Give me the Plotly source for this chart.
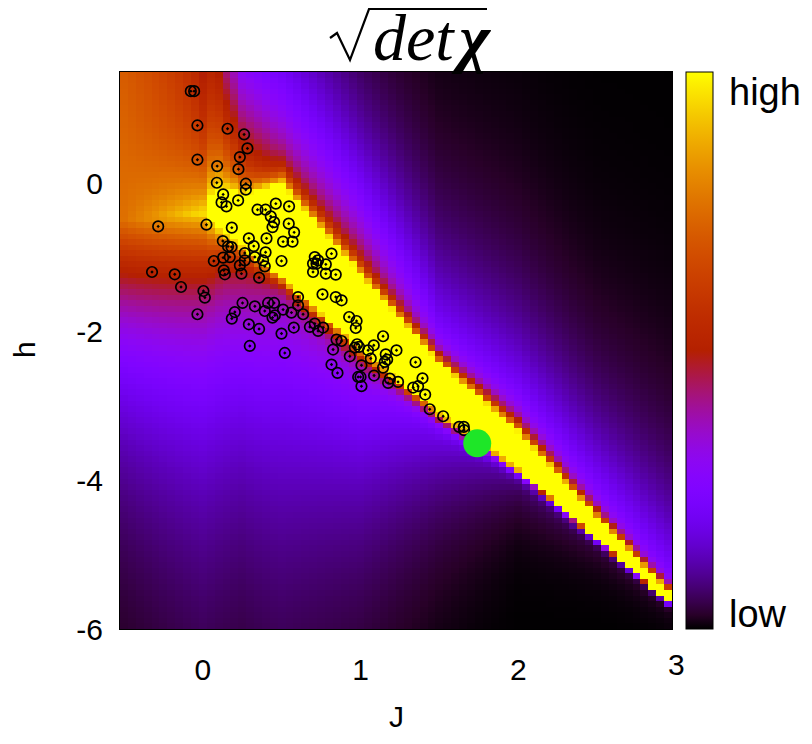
import numpy as np
import plotly.graph_objects as go

# ---------------- data ----------------
# inferred models (J, h)
J_pts = [-0.076, -0.055, -0.034, 0.157, 0.262, 0.283, 0.235, -0.034, 0.091, 0.226,
         0.089, 0.273, 0.273, 0.129, 0.224, 0.119, 0.150, 0.347, 0.398, 0.463,
         0.547, 0.431, 0.452, 0.442, 0.545, 0.579, -0.283, 0.023, 0.184, 0.292,
         0.404, 0.509, 0.569, 0.127, 0.160, 0.182, 0.323, 0.266, 0.398,
         0.129, 0.171, 0.070, 0.330, 0.382, 0.393, 0.499, 0.133, 0.140, 0.235,
         0.245, 0.357, -0.322, -0.178, -0.138, 0.004, 0.013, -0.034, 0.203, 0.184,
         0.252, 0.330, 0.393, 0.414, 0.452, 0.442, 0.457, 0.509, 0.562, 0.292,
         0.357, 0.499, 0.577, 0.298, 0.520, 0.604, 0.604, 0.636, 0.266,
         0.710, 0.731, 0.699, 0.721, 0.816, 0.780, 0.699, 0.780, 0.843, 0.759,
         0.843, 0.880, 0.679, 0.710, 0.731, 0.763, 0.928, 0.975, 0.970, 0.848,
         0.880, 0.826, 0.978, 0.964, 0.991, 1.143, 1.084, 1.048, 0.932, 1.065,
         1.160, 1.169, 1.154, 1.143, 1.228, 0.816, 0.854, 1.006, 1.000, 0.985,
         1.086, 1.006, 1.186, 1.175, 1.238, 1.349, 1.393, 1.334, 1.365, 1.410,
         1.439, 1.524, 1.625, 1.655, 1.657]
h_pts = [1.242, 1.242, 0.780, 0.736, 0.659, 0.471, 0.354, 0.319, 0.233, 0.192,
         0.009, -0.004, -0.085, -0.148, -0.229, -0.256, -0.309, -0.354, -0.354, -0.273,
         -0.309, -0.444, -0.521, -0.588, -0.542, -0.659, -0.579, -0.556, -0.596, -0.740,
         -0.740, -0.784, -0.784, -0.776, -0.848, -0.857, -0.844, -0.938, -0.928,
         -1.000, -0.992, -1.045, -0.992, -1.036, -1.117, -1.045, -1.170, -1.224, -1.103,
         -1.215, -1.269, -1.193, -1.224, -1.395, -1.449, -1.538, -1.762, -1.732, -1.820,
         -1.610, -1.655, -1.718, -1.610, -1.610, -1.807, -1.776, -1.699, -1.740, -1.897,
         -1.960, -2.022, -1.941, -2.189, -2.283, -1.530, -1.641, -1.762, -1.036,
         -0.992, -1.036, -1.080, -1.080, -0.946, -1.090, -1.193, -1.215, -1.228, -1.493,
         -1.530, -1.574, -1.933, -1.888, -1.987, -1.941, -1.799, -1.853, -1.947, -2.103,
         -2.122, -2.237, -2.166, -2.210, -2.202, -2.058, -2.180, -2.247, -2.328, -2.358,
         -2.301, -2.372, -2.404, -2.480, -2.247, -2.439, -2.552, -2.449, -2.606, -2.606,
         -2.587, -2.731, -2.628, -2.687, -2.673, -2.408, -2.624, -2.749, -2.731, -2.843,
         -3.041, -3.135, -3.279, -3.279, -3.323]
J_special = [1.74]
h_special = [-3.50]

# surface sqrt(det chi): grid and column-profile parameters
J_cells = np.round(np.arange(-0.5, 2.951, 0.05), 4)
h_cells = np.round(-6 + 0.075 * (np.arange(100) + 0.5), 4)
J_anchor    = [-0.5, 0.0, 0.125, 0.25, 0.5, 1.0, 1.5, 2.0, 2.5, 3.0]
edge_h      = [-0.5, -0.4, -0.6, -0.8, -1.22, -2.18, -3.08, -3.85, -4.78, -5.72]
core_amp    = [0.0, 0.3, 0.5, 0.65, 1.05, 1.05, 1.05, 1.05, 1.05, 1.05]
yellow_w    = [0.0, 0.0, 0.3, 0.55, 1.1, 0.88, 0.62, 0.45, 0.25, 0.1]
core_up_len = [0.6, 0.6, 0.2, 0.1, 0.15, 0.1, 0.1, 0.12, 0.08, 0.06]
core_dn_len = [0.5, 0.5, 0.2, 0.12, 0.08, 0.1, 0.07, 0.04, 0.03, 0.02]
tail_up_amp = [0.76, 0.66, 1.0, 1.14, 1.11, 1.21, 0.59, 0.55, 0.45, 0.33]
tail_up_len = [30.0, 6.0, 2.58, 1.69, 1.65, 1.26, 1.21, 1.2, 1.1, 1.2]
tail_dn_amp = [0.76, 0.66, 0.6, 0.56, 0.44, 0.4, 0.25, 0.12, 0.06, 0.03]
tail_dn_len = [1.7, 2.3, 2.2, 2.1, 2.35, 1.71, 1.0, 0.44, 0.3, 0.2]

x_ticks = [0, 1, 2]
y_ticks = [-6, -4, -2, 0]
cb_lines = [0.2, 0.4, 0.6, 0.8]

# ---------------- surface ----------------
JJ, HH = np.meshgrid(J_cells, h_cells)
p = lambda arr: np.interp(JJ, J_anchor, arr)
d = HH - p(edge_h)
up = p(core_amp) * np.exp(-np.maximum(0, d - p(yellow_w)) / p(core_up_len)) \
     + p(tail_up_amp) * np.exp(-d / p(tail_up_len))
dn = p(core_amp) * np.exp(d / p(core_dn_len)) + p(tail_dn_amp) * np.exp(d / p(tail_dn_len))
Z = np.clip(np.where(d >= 0, up, dn), 0, 1)

# gnuplot default palette (rgbformulae 7,5,15)
cs = []
for i in range(41):
    t = i / 40
    r = np.sqrt(t); g = t ** 3; b = max(0.0, np.sin(2 * np.pi * t))
    cs.append([t, f"rgb({int(round(r*255))},{int(round(g*255))},{int(round(b*255))})"])

# ---------------- figure ----------------
L, R, T, B = 120, 140, 72, 115
W, H = 812, 744
pw, ph = W - L - R, H - T - B
px = lambda x: (x - L) / pw
py = lambda y: (H - B - y) / ph

fig = go.Figure()
fig.add_trace(go.Heatmap(
    x=J_cells, y=h_cells, z=Z, zmin=0, zmax=1, colorscale=cs,
    colorbar=dict(thickness=27, len=1, lenmode="fraction", x=px(686), xanchor="left",
                  y=0.5, yanchor="middle", xpad=0, ypad=0, outlinewidth=1,
                  outlinecolor="black", showticklabels=False, ticks=""),
    hoverinfo="skip"))
fig.add_trace(go.Scatter(x=J_pts, y=h_pts, mode="markers",
                         marker=dict(symbol="circle-open-dot", size=10.5, color="black",
                                     line=dict(width=1.7)),
                         showlegend=False, hoverinfo="skip"))
fig.add_trace(go.Scatter(x=J_special, y=h_special, mode="markers",
                         marker=dict(symbol="circle", size=28, color="#1ee628"),
                         showlegend=False, hoverinfo="skip"))

font = "Liberation Sans, Arial, sans-serif"
fig.update_layout(
    width=W, height=H, margin=dict(l=L, r=R, t=T, b=B),
    paper_bgcolor="white", plot_bgcolor="white", showlegend=False,
    font=dict(family=font, size=30, color="black"),
    xaxis=dict(range=[-0.525, 2.975], tickvals=x_ticks, ticktext=[str(v) for v in x_ticks],
               ticks="", showgrid=False, zeroline=False, showline=True, mirror=True,
               linecolor="black", linewidth=1, ticklabelstandoff=14),
    yaxis=dict(range=[-6, 1.5], tickvals=y_ticks, ticktext=[str(v) for v in y_ticks],
               ticks="", showgrid=False, zeroline=False, showline=True, mirror=True,
               linecolor="black", linewidth=1, ticklabelstandoff=10),
)

ann = []
ann.append(dict(text="3", x=px(676), y=py(665), xref="paper", yref="paper", showarrow=False,
                xanchor="center", yanchor="middle", font=dict(size=30)))
ann.append(dict(text="J", x=px(396), y=py(716), xref="paper", yref="paper", showarrow=False,
                xanchor="center", yanchor="middle", font=dict(size=30)))
ann.append(dict(text="h", x=px(24), y=py(350), xref="paper", yref="paper", showarrow=False,
                textangle=-90, xanchor="center", yanchor="middle", font=dict(size=30)))
ann.append(dict(text="high", x=px(727), y=py(92), xref="paper", yref="paper", showarrow=False,
                xanchor="left", yanchor="middle", font=dict(size=38)))
ann.append(dict(text="low", x=px(727), y=py(614), xref="paper", yref="paper", showarrow=False,
                xanchor="left", yanchor="middle", font=dict(size=38)))
ann.append(dict(text="<i>det</i>\u200a<b><i>χ</i></b>", x=px(371), y=py(37),
                xref="paper", yref="paper", showarrow=False, xanchor="left", yanchor="middle",
                font=dict(family="Liberation Serif, serif", size=66)))
fig.update_layout(annotations=ann)

shapes = []
for f in cb_lines:
    shapes.append(dict(type="line", xref="paper", yref="paper", x0=px(686), x1=px(713),
                       y0=f, y1=f, line=dict(color="black", width=1.2)))
path = "M {} {} L {} {} L {} {} L {} {} L {} {}".format(
    px(330), py(38), px(337), py(33), px(350), py(60), px(369), py(9), px(487), py(9))
shapes.append(dict(type="path", xref="paper", yref="paper", path=path,
                   line=dict(color="black", width=2.2)))
fig.update_layout(shapes=shapes)

fig.write_html("out.html")
